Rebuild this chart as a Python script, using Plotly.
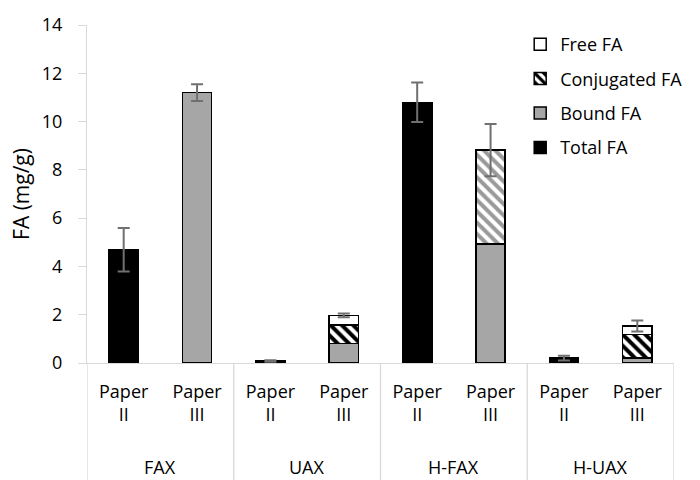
import plotly.graph_objects as go

groups = ["FAX", "UAX", "H-FAX", "H-UAX"]
papers = ["Paper<br>II", "Paper<br>III"]
positions = [0, 1, 2, 3, 4, 5, 6, 7]

total_fa = [4.69, None, 0.08, None, 10.8, None, 0.2, None]
bound_fa = [None, 11.2, None, 0.8, None, 4.92, None, 0.2]
conj_fa = [None, 0.0, None, 0.78, None, 3.9, None, 0.98]
free_fa = [None, 0.0, None, 0.39, None, 0.0, None, 0.35]
errors = [0.9, 0.35, 0.03, 0.08, 0.82, 1.08, 0.1, 0.23]

hatch_colors = ["black", "black", "black", "black", "#9a9a9a", "#9a9a9a", "black", "black"]

FONT = "Open Sans"
tick_text = [papers[i % 2] for i in range(8)]

def v(a):
    return 0 if a is None else a

totals = [v(a) + v(b) + v(c) + v(d) for a, b, c, d in zip(total_fa, bound_fa, conj_fa, free_fa)]

fig = go.Figure()
fig.add_trace(go.Bar(x=positions, y=total_fa, name="Total FA", width=0.4,
                     marker=dict(color="black", line=dict(color="black", width=1.5)),
                     legendgroup="a", legendrank=4))
fig.add_trace(go.Bar(x=positions, y=bound_fa, name="Bound FA", width=0.4,
                     marker=dict(color="#a6a6a6", line=dict(color="black", width=1.5)),
                     legendgroup="b", legendrank=3))
fig.add_trace(go.Bar(x=positions, y=conj_fa, name="Conjugated FA", width=0.4,
                     marker=dict(color="white", line=dict(color="black", width=1.5),
                                 pattern=dict(shape="\\", fgcolor=hatch_colors, bgcolor="white",
                                              size=8, solidity=0.5, fgopacity=1,
                                              fillmode="overlay")),
                     legendgroup="c", legendrank=2))
fig.add_trace(go.Bar(x=positions, y=free_fa, name="Free FA", width=0.4,
                     marker=dict(color="white", line=dict(color="black", width=1.5)),
                     legendgroup="d", legendrank=1))
fig.add_trace(go.Scatter(x=positions, y=totals, mode="markers", showlegend=False,
                         marker=dict(size=1, opacity=0), hoverinfo="skip",
                         error_y=dict(type="data", array=errors, visible=True,
                                      color="#707070", thickness=2, width=6)))

grid = "#d9d9d9"
shapes = []
for b in [-0.5, 1.5, 3.5, 5.5, 7.5]:
    shapes.append(dict(type="line", xref="x", yref="paper", x0=b, x1=b, y0=0, y1=-0.36,
                       line=dict(color=grid, width=1.3)))

annotations = []
for i, g in enumerate(groups):
    annotations.append(dict(x=2 * i + 0.5, y=-0.308, xref="x", yref="paper", text=g,
                            showarrow=False, yanchor="middle",
                            font=dict(family=FONT, size=18, color="black")))

fig.update_layout(
    width=700, height=480,
    margin=dict(l=87, r=25, t=23, b=117),
    paper_bgcolor="white", plot_bgcolor="white",
    barmode="stack",
    font=dict(family=FONT, size=18, color="black"),
    xaxis=dict(range=[-0.5, 7.5], tickvals=positions, ticktext=tick_text,
               showgrid=False, zeroline=False, showline=True, linecolor=grid, linewidth=1.3,
               ticks="", ticklabelstandoff=12,
               tickfont=dict(family=FONT, size=18), fixedrange=True),
    yaxis=dict(range=[0, 14], dtick=2, showgrid=False, zeroline=False,
               showline=True, linecolor=grid, linewidth=1.3,
               ticks="outside", ticklen=8, tickcolor=grid, tickwidth=1.3,
               ticklabelstandoff=12,
               tickfont=dict(family=FONT, size=18),
               title=dict(text="FA (mg/g)", font=dict(family=FONT, size=21), standoff=6)),
    legend=dict(x=0.738, y=0.997, xanchor="left", yanchor="top",
                traceorder="grouped", tracegroupgap=8,
                font=dict(family=FONT, size=18), bgcolor="rgba(0,0,0,0)"),
    shapes=shapes,
    annotations=annotations,
    showlegend=True,
)

fig.write_html("out.html")
